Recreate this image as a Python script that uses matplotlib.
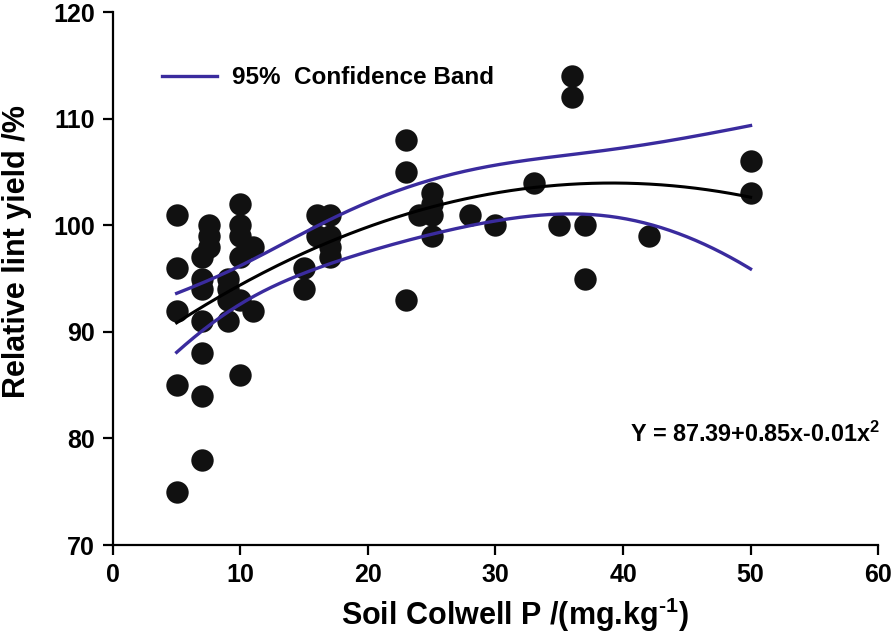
import matplotlib
matplotlib.use("Agg")
import matplotlib.pyplot as plt
import numpy as np

# data
soil_p = [5, 5, 5, 5, 5,
          7, 7, 7, 7, 7, 7, 7,
          7.5, 7.5, 7.5,
          9, 9, 9, 9,
          10, 10, 10, 10, 10, 10,
          11, 11,
          15, 15, 16, 16, 17, 17, 17, 17,
          23, 23, 23, 24, 25, 25, 25, 25,
          28, 30, 33, 35, 36, 36, 37, 37, 42, 50, 50]
rel_yield = [101, 96, 92, 85, 75,
             97, 95, 94, 91, 88, 84, 78,
             100, 99, 98,
             95, 94, 93, 91,
             102, 100, 99, 97, 93, 86,
             98, 92,
             96, 94, 101, 99, 101, 99, 98, 97,
             108, 105, 93, 101, 103, 102, 101, 99,
             101, 100, 104, 100, 114, 112, 100, 95, 99, 106, 103]

x_ticks = [0, 10, 20, 30, 40, 50, 60]
y_ticks = [70, 80, 90, 100, 110, 120]
band_color = "#3a2b9e"

plt.rcParams["mathtext.fontset"] = "custom"
plt.rcParams["mathtext.rm"] = "Liberation Sans:bold"
plt.rcParams["mathtext.bf"] = "Liberation Sans:bold"
font = ["Liberation Sans", "DejaVu Sans"]

x = np.array(soil_p, dtype=float)
y = np.array(rel_yield, dtype=float)

# quadratic fit and 95% confidence band
X = np.column_stack([np.ones_like(x), x, x ** 2])
beta, res, rank, sv = np.linalg.lstsq(X, y, rcond=None)
n = len(x)
s2 = np.sum((y - X @ beta) ** 2) / (n - 3)
cov = s2 * np.linalg.inv(X.T @ X)
xs = np.linspace(5, 50, 200)
Xs = np.column_stack([np.ones_like(xs), xs, xs ** 2])
fit = Xs @ beta
se = np.sqrt(np.einsum("ij,jk,ik->i", Xs, cov, Xs))
t_val = 2.01
upper = fit + t_val * se
lower = fit - t_val * se

fig = plt.figure(figsize=(8.96, 6.42), dpi=100)
ax = fig.add_axes([0.126, 0.151, 0.854, 0.830])

ax.scatter(x, y, s=260, color="#111111", zorder=2, linewidths=0)
ax.plot(xs, fit, color="black", lw=2.2, zorder=3)
ax.plot(xs, upper, color=band_color, lw=2.4, zorder=3, label="95%  Confidence Band")
ax.plot(xs, lower, color=band_color, lw=2.4, zorder=3)

ax.set_xlim(0, 60)
ax.set_ylim(70, 120)
ax.set_xticks(x_ticks)
ax.set_yticks(y_ticks)
for lab in ax.get_xticklabels() + ax.get_yticklabels():
    lab.set_family(font)
    lab.set_fontweight("bold")
    lab.set_fontsize(18)
ax.tick_params(direction="out", length=7, width=1.6, pad=6)
ax.spines["top"].set_visible(False)
ax.spines["right"].set_visible(False)
ax.spines["left"].set_linewidth(1.6)
ax.spines["bottom"].set_linewidth(1.6)

ax.set_xlabel("Soil Colwell P /(mg.kg$^{\\text{-}1}$)", family=font,
              fontweight="bold", fontsize=22)
ax.set_ylabel("Relative lint yield /%", family=font,
              fontweight="bold", fontsize=22)
ax.xaxis.set_label_coords(0.525, -0.095)
ax.yaxis.set_label_coords(-0.106, 0.55)

ax.legend(loc="upper left", bbox_to_anchor=(0.035, 0.94), frameon=False,
          handlelength=2.3, handletextpad=0.6,
          prop={"family": font, "weight": "bold", "size": 17.5})

ax.text(1.003, 0.193, "Y = 87.39+0.85x-0.01x$^{2}$", transform=ax.transAxes,
        ha="right", va="baseline", family=font, fontweight="bold",
        fontsize=16.8)

fig.savefig("out.png", dpi=100)
